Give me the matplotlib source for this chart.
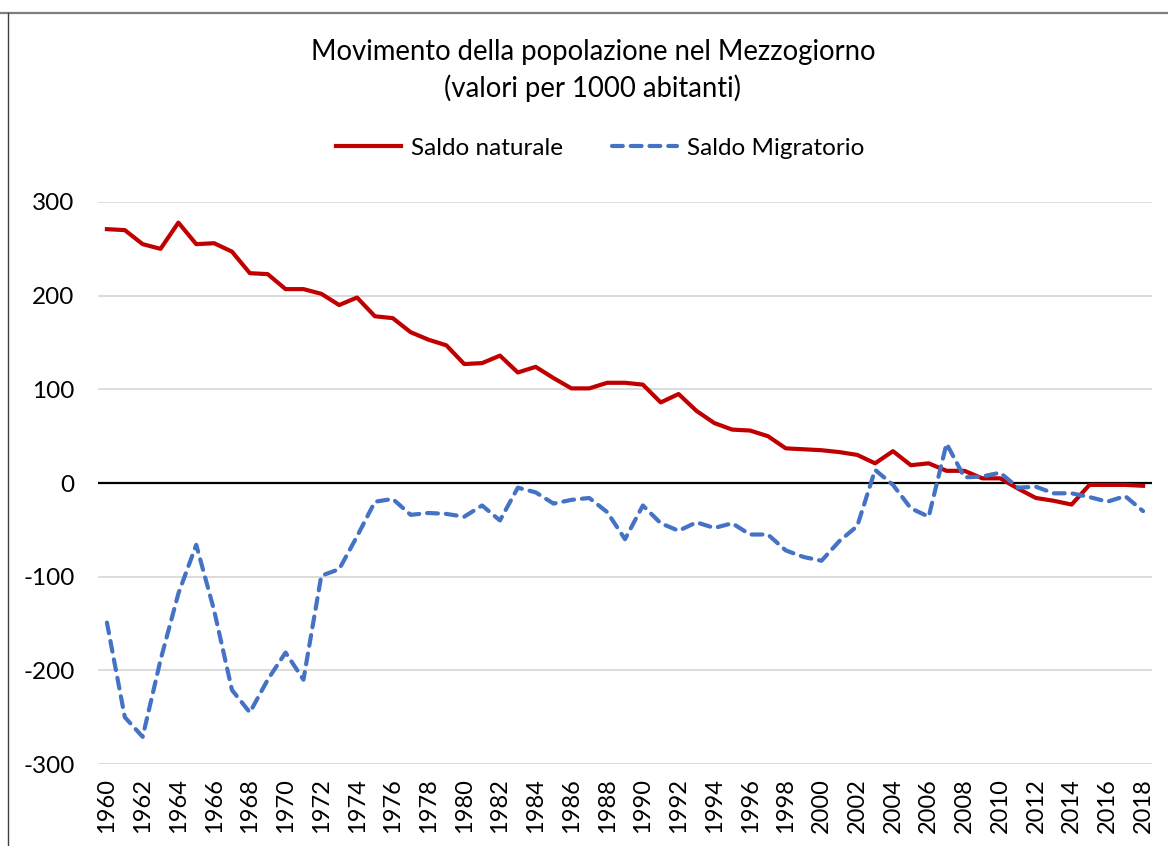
import matplotlib
matplotlib.use('Agg')
import matplotlib.pyplot as plt
from matplotlib.lines import Line2D

plt.rcParams['font.family'] = ['Lato', 'DejaVu Sans']
plt.rcParams['axes.unicode_minus'] = False

# Data (values per 1000 inhabitants)
years = list(range(1960, 2019))

saldo_naturale = [
    271, 270, 255, 250, 278, 255, 256, 247, 224, 223,
    207, 207, 202, 190, 198, 178, 176, 161, 153, 147,
    127, 128, 136, 118, 124, 112, 101, 101, 107, 107,
    105, 86, 95, 77, 64, 57, 56, 50, 37, 36,
    35, 33, 30, 21, 34, 19, 21, 13, 13, 5,
    5, -6, -16, -19, -23, -2, -2, -2, -3,
]

saldo_migratorio = [
    -149, -250, -271, -189, -118, -66, -136, -221, -245, -210,
    -181, -210, -99, -92, -57, -20, -17, -34, -32, -33,
    -36, -24, -40, -5, -10, -22, -18, -16, -31, -60,
    -24, -43, -51, -42, -48, -43, -55, -55, -72, -79,
    -83, -62, -46, 14, -2, -27, -36, 42, 6, 7,
    11, -5, -4, -11, -11, -15, -20, -14, -30,
]

x_labels = [str(y) if (y - 1960) % 2 == 0 else '' for y in years]

W, H = 1168, 846
fig = plt.figure(figsize=(W / 100, H / 100), dpi=100)
ax = fig.add_axes([98 / W, (H - 764) / H, (1152 - 98) / W, (764 - 202) / H])

idx = list(range(len(years)))
ax.plot(idx, saldo_naturale, color='#C00000', lw=3.0, label='Saldo naturale',
        solid_joinstyle='round', zorder=3)
ax.plot(idx, saldo_migratorio, color='#4472C4', lw=3.0, label='Saldo Migratorio',
        dashes=(2.6, 1.9), dash_capstyle='round', zorder=3)

ax.axhline(0, color='black', lw=1.6, zorder=2)

ax.set_xlim(-0.5, len(years) - 0.5)
ax.set_ylim(-300, 300)
ax.set_yticks(range(-300, 301, 100))
ax.set_xticks(idx)
ax.set_xticklabels(x_labels, rotation=90, fontsize=17)
ax.tick_params(axis='y', labelsize=17.5, length=0, pad=17)
ax.tick_params(axis='x', length=0, pad=10)
ax.grid(axis='y', color='#D9D9D9', lw=1.3)
ax.set_axisbelow(True)
for s in ax.spines.values():
    s.set_visible(False)

fig.text(593 / W, 1 - 52 / H, 'Movimento della popolazione nel Mezzogiorno',
         ha='center', va='center', fontsize=19.8)
fig.text(593 / W, 1 - 88 / H, '(valori per 1000 abitanti)',
         ha='center', va='center', fontsize=19.8)

fig.legend(loc='center', bbox_to_anchor=(600 / W, 1 - 148 / H), ncol=2,
           frameon=False, fontsize=17.5, handlelength=2.7, columnspacing=2.0,
           handletextpad=0.4)

# chart border (top and left visible)
fig.add_artist(Line2D([0, 1], [1 - 13 / H, 1 - 13 / H], color='#7F7F7F', lw=1.6,
                      transform=fig.transFigure))
fig.add_artist(Line2D([7.5 / W, 7.5 / W], [0, 1 - 13 / H], color='#404040', lw=1.0,
                      transform=fig.transFigure))

fig.savefig('out.png', dpi=100)
